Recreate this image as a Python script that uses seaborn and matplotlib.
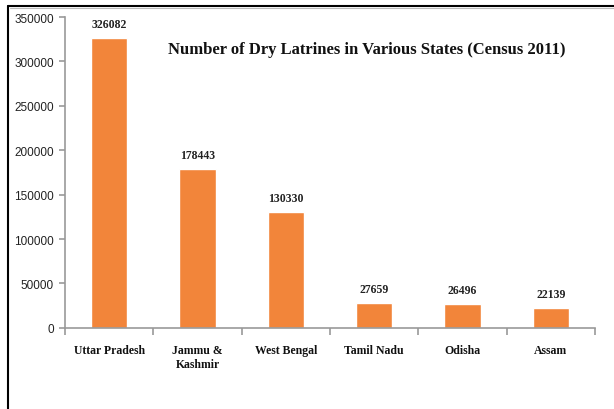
import matplotlib
matplotlib.use("Agg")
import matplotlib.pyplot as plt
import seaborn as sns
import pandas as pd

sns.set_style("white")

estados = ["Uttar Pradesh", "Jammu &\nKashmir", "West Bengal", "Tamil Nadu", "Odisha", "Assam"]
latrinas = [326082, 178443, 130330, 27659, 26496, 22139]
yticks = [0, 50000, 100000, 150000, 200000, 250000, 300000, 350000]

COR = "#F2853A"
SERIF = ["Liberation Serif", "DejaVu Serif"]
SANS = ["Liberation Sans Narrow", "Liberation Sans", "DejaVu Sans"]

df = pd.DataFrame({"estado": estados, "qtd": latrinas})

fig = plt.figure(figsize=(6.14, 4.10), dpi=100)
ax = fig.add_axes([0.106, 0.198, 0.863, 0.758])

sns.barplot(data=df, x="estado", y="qtd", color=COR, width=0.41, saturation=1, ax=ax)

ax.set_ylim(0, 350000)
ax.set_xlim(-0.5, len(estados) - 0.5)
ax.set_yticks(yticks)
ax.set_yticklabels([str(v) for v in yticks], family=SANS, fontsize=8.5, color="#222222")
ax.set_xlabel("")
ax.set_ylabel("")
ax.set_xticks(range(len(estados)))
ax.set_xticklabels(estados, family=SERIF, fontsize=8.5, fontweight="bold", color="#111111")
ax.tick_params(axis="x", length=0, pad=12)
ax.set_xticks([i - 0.5 for i in range(len(estados) + 1)], minor=True)
ax.tick_params(axis="x", which="minor", bottom=True, length=5, width=1.2,
               color="#999999", direction="out")
ax.tick_params(axis="y", left=True, length=4, width=1.2, color="#999999",
               direction="out", pad=4)

for s in ["top", "right"]:
    ax.spines[s].set_visible(False)
for s in ["left", "bottom"]:
    ax.spines[s].set_color("#999999")
    ax.spines[s].set_linewidth(1.2)

# rotulos dos valores
for i, v in enumerate(latrinas):
    ax.text(i, v + 9000, str(v), ha="center", va="bottom", family=SERIF,
            fontsize=8.5, fontweight="bold", color="#222222")

fig.text(0.597, 0.878, "Number of Dry Latrines in Various States (Census 2011)",
         ha="center", va="center", family=SERIF, fontsize=12, fontweight="bold",
         color="#111111")

# moldura
fig.add_artist(plt.Line2D([0.013, 1.0], [0.983, 0.983], transform=fig.transFigure,
                          color="black", lw=1.5))
fig.add_artist(plt.Line2D([0.013, 0.013], [0.0, 0.983], transform=fig.transFigure,
                          color="black", lw=1.5))
fig.add_artist(plt.Line2D([0.016, 1.0], [0.977, 0.977], transform=fig.transFigure,
                          color="#BBBBBB", lw=0.8))

fig.savefig("out.png", dpi=100)
